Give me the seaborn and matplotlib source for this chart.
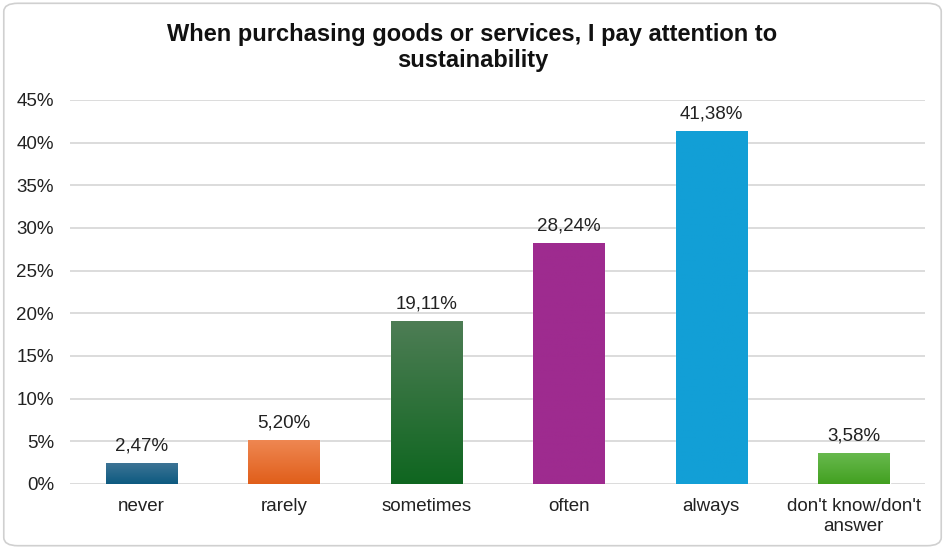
import matplotlib
matplotlib.use("Agg")
import matplotlib.pyplot as plt
import seaborn as sns
import numpy as np
import pandas as pd
from matplotlib.patches import FancyBboxPatch
from matplotlib.colors import LinearSegmentedColormap

categories = ["never", "rarely", "sometimes", "often", "always", "don't know/don't\nanswer"]
values = [2.47, 5.20, 19.11, 28.24, 41.38, 3.58]
labels = ["2,47%", "5,20%", "19,11%", "28,24%", "41,38%", "3,58%"]
top_colors = ["#3f7596", "#ef8853", "#4e7d55", "#9e2b8f", "#129fd6", "#68b94e"]
bottom_colors = ["#0d5a80", "#e05e1a", "#0f6620", "#9e2b8f", "#129fd6", "#42a020"]
yticks = [0, 5, 10, 15, 20, 25, 30, 35, 40, 45]

sns.set_theme(style="white")
plt.rcParams["font.family"] = ["Liberation Sans", "DejaVu Sans"]

fig = plt.figure(figsize=(9.45, 5.49), dpi=100)
ax = fig.add_axes([0.074, 0.1184, 0.905, 0.6995])

df = pd.DataFrame({"cat": categories, "val": values})
sns.barplot(data=df, x="cat", y="val", hue="cat", palette=bottom_colors,
            legend=False, width=0.5, ax=ax, zorder=3)

ax.set_ylim(0, 45)
ax.set_yticks(yticks)
ax.set_yticklabels([f"{t}%" for t in yticks], fontsize=13.5, color="#222222")
ax.tick_params(axis="x", labelsize=13.5, colors="#222222", length=0, pad=10)
ax.tick_params(axis="y", length=0, pad=11.5)
for t in yticks:
    ax.axhline(t, color="#d9d9d9", lw=1.3, zorder=1)
for s in ax.spines.values():
    s.set_visible(False)
ax.set_xlabel("")
ax.set_ylabel("")
for lbl in ax.get_xticklabels():
    lbl.set_linespacing(1.25)

for i, p in enumerate(ax.patches):
    x0, y0 = p.get_x(), p.get_y()
    w, h = p.get_width(), p.get_height()
    cmap = LinearSegmentedColormap.from_list("g", [bottom_colors[i], top_colors[i]])
    grad = np.linspace(0, 1, 256).reshape(-1, 1)
    im = ax.imshow(grad, cmap=cmap, aspect="auto", origin="lower",
                   extent=(x0, x0 + w, y0, y0 + h), zorder=3.5)
    im.set_clip_path(p)
    ax.text(x0 + w / 2, y0 + h + 1.0, labels[i], ha="center", va="bottom",
            fontsize=13.5, color="#222222", zorder=5)

ax.set_xlim(-0.5, 5.5)

fig.text(0.5, 0.9135, "When purchasing goods or services, I pay attention to\nsustainability",
         ha="center", va="center", fontsize=17, fontweight="bold", color="#111111",
         linespacing=1.2)

border = FancyBboxPatch((0.004, 0.006), 0.992, 0.988, boxstyle="round,pad=0,rounding_size=0.015",
                        transform=fig.transFigure, fill=False, edgecolor="#d0d0d0", lw=1.2)
fig.patches.append(border)

fig.savefig("out.png", dpi=100)
